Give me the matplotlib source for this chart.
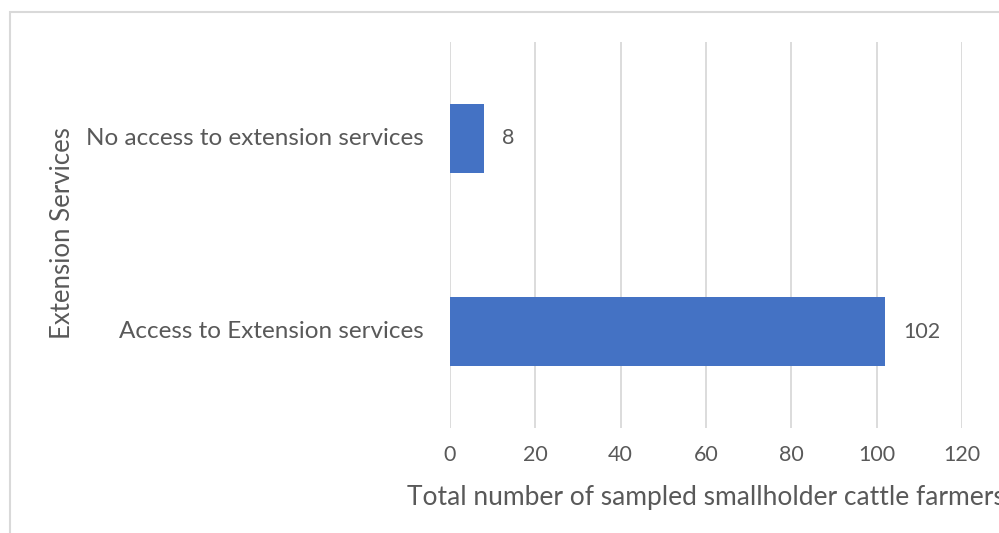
import matplotlib.pyplot as plt
from matplotlib.patches import Rectangle

categories = ["Access to Extension services", "No access to extension services"]
farmers = [102, 8]
x_ticks = [0, 20, 40, 60, 80, 100, 120]

plt.rcParams['font.family'] = ['Lato', 'DejaVu Sans']
text_color = '#595959'
grid_color = '#d9d9d9'
bar_color = '#4472C4'

W, H = 999, 533
fig = plt.figure(figsize=(W / 100, H / 100), dpi=100)

# light grey chart frame (runs off the right and bottom edges)
fig.patches.append(Rectangle((9.5 / W, -0.5), 2, 1 - 12 / H + 0.5, transform=fig.transFigure,
                             fill=False, edgecolor=grid_color, lw=1.5))

ax = fig.add_axes([450 / W, 1 - 428 / H, 512 / W, 386 / H])
bars = ax.barh(range(len(categories)), farmers, height=0.355, color=bar_color, zorder=3)
ax.set_xlim(0, 120)
ax.set_ylim(-0.5, 1.5)
ax.set_xticks(x_ticks)
ax.set_yticks(range(len(categories)))
ax.set_yticklabels(categories, va='center')
ax.grid(axis='x', color=grid_color, lw=1.3, zorder=0)
for s in ax.spines.values():
    s.set_visible(False)
ax.tick_params(length=0, colors=text_color)
ax.tick_params(axis='y', pad=19, labelsize=17.5)
ax.tick_params(axis='x', pad=12, labelsize=15.5)

ax.bar_label(bars, padding=13, color=text_color, fontsize=15.5)

fig.text(62 / W, 1 - 233 / H, "Extension Services", rotation=90, ha='center', va='center',
         color=text_color, fontsize=18.5)
# axis title is wider than the space right of the plot centre, so it runs off the edge
fig.text(706 / W, 1 - 497 / H, "Total number of sampled smallholder cattle farmers",
         ha='center', va='center', color=text_color, fontsize=19)

fig.savefig("out.png", dpi=100)
